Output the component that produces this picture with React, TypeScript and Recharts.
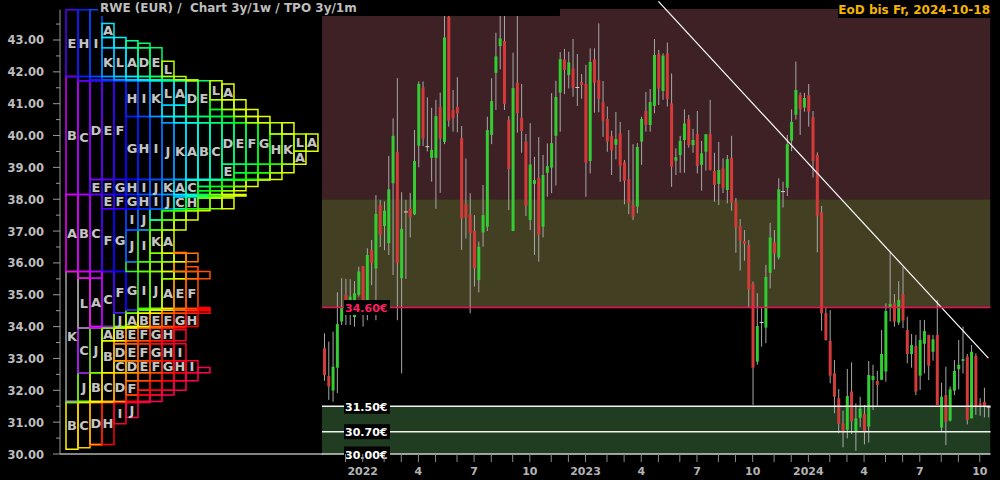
import React from 'react';
import { ComposedChart, Bar, Line, XAxis, YAxis, ReferenceArea, ReferenceLine } from 'recharts';

// weekly candles, oldest first (156 weeks up to 2024-10-18)
const candleOpen = [
  33.32, 32.45, 31.99, 32.71, 34.16, 35.0, 34.37, 34.3, 35.0, 35.9,
  34.78, 36.41, 35.83, 37.82, 37.16, 36.62, 38.5, 39.48, 35.52, 37.6,
  37.7, 37.53, 39.68, 41.51, 39.65, 39.3, 39.3, 40.89, 39.8, 43.73,
  40.8, 40.9, 39.92, 37.85, 37.5, 37.01, 35.46, 36.96, 37.14, 40.02,
  41.97, 42.81, 42.97, 40.49, 37.0, 41.66, 40.56, 39.81, 37.35, 38.48,
  38.67, 37.14, 38.83, 38.99, 39.99, 41.35, 42.39, 41.9, 42.11, 41.51,
  41.68, 41.62, 39.2, 42.39, 41.74, 41.05, 40.52, 39.99, 39.71, 40.07,
  39.16, 38.63, 37.82, 37.77, 39.81, 40.77, 40.33, 40.93, 42.56, 41.4,
  42.58, 41.01, 39.21, 39.39, 39.86, 40.52, 39.7, 40.05, 39.08, 39.49,
  40.05, 38.89, 38.48, 38.97, 38.29, 39.3, 37.91, 37.16, 36.69, 36.56,
  35.35, 32.9, 34.13, 33.97, 35.69, 36.65, 36.17, 38.24, 38.36, 39.84,
  40.65, 41.27, 40.88, 41.27, 40.58, 39.39, 37.59, 34.42, 33.55, 32.53,
  31.75, 30.96, 30.76, 31.96, 30.7, 31.14, 31.26, 30.86, 32.32, 32.29,
  32.33, 32.59, 34.61, 34.73, 34.13, 35.02, 33.89, 33.14, 33.39, 32.46,
  33.46, 33.74, 33.21, 33.74, 30.83, 31.85, 31.05, 31.99, 32.66, 32.92,
  33.06, 31.12, 33.08, 31.59, 31.64, 31.47,
];
const candleHigh = [
  33.79, 33.53, 33.84, 35.08, 35.52, 35.5, 35.49, 35.43, 35.88, 35.9,
  36.46, 36.72, 38.13, 37.98, 37.93, 39.36, 40.54, 41.8, 38.22, 37.98,
  38.2, 40.17, 41.7, 41.7, 41.2, 40.87, 41.12, 41.35, 43.8, 43.8,
  41.43, 41.83, 40.3, 39.28, 38.19, 37.5, 36.67, 38.45, 40.59, 41.8,
  43.23, 43.8, 43.8, 40.61, 42.6, 43.8, 41.62, 40.05, 40.39, 39.33,
  39.95, 39.39, 39.75, 41.33, 41.72, 42.62, 42.72, 42.63, 43.03, 42.56,
  41.93, 42.22, 42.74, 42.74, 43.52, 41.71, 40.91, 40.15, 40.74, 40.43,
  39.23, 40.17, 39.73, 39.76, 40.59, 41.37, 41.46, 43.03, 42.69, 42.58,
  42.92, 41.95, 39.6, 39.99, 40.82, 40.65, 40.21, 40.77, 39.83, 40.04,
  41.12, 39.46, 39.8, 39.28, 39.39, 39.99, 38.04, 37.38, 37.03, 36.72,
  35.41, 35.05, 34.58, 35.94, 37.26, 37.03, 38.66, 38.55, 40.02, 40.82,
  42.32, 41.35, 41.34, 41.62, 40.77, 39.47, 37.79, 34.58, 34.52, 32.95,
  32.04, 31.36, 32.67, 32.88, 31.59, 31.8, 31.54, 32.92, 32.8, 32.61,
  33.89, 34.73, 36.33, 35.02, 35.43, 35.88, 34.31, 33.77, 33.74, 34.21,
  34.21, 33.74, 33.74, 34.84, 32.24, 32.74, 32.12, 32.95, 33.58, 34.0,
  33.14, 33.42, 33.16, 31.75, 32.08, 31.51,
];
const candleLow = [
  32.3, 31.7, 31.64, 31.91, 34.05, 34.05, 34.05, 34.0, 34.94, 34.0,
  34.2, 35.3, 34.2, 36.5, 36.4, 36.25, 35.62, 34.2, 32.53, 35.5,
  36.8, 37.5, 39.0, 39.67, 39.5, 38.55, 37.7, 38.2, 39.73, 40.28,
  40.12, 40.1, 36.41, 36.77, 34.42, 35.26, 35.08, 36.51, 37.0, 39.73,
  40.8, 42.08, 40.8, 37.66, 37.0, 40.09, 39.46, 37.47, 37.03, 36.25,
  36.04, 36.8, 38.08, 38.19, 38.43, 40.12, 41.3, 41.48, 41.22, 40.93,
  41.16, 38.08, 38.81, 40.72, 40.73, 39.96, 39.49, 38.76, 39.25, 38.55,
  37.84, 37.53, 37.35, 37.56, 39.08, 40.12, 40.12, 40.7, 40.96, 41.12,
  40.91, 38.39, 38.76, 38.83, 38.83, 39.62, 39.46, 38.81, 38.27, 38.9,
  38.9, 37.92, 37.82, 38.19, 37.87, 37.64, 36.32, 35.76, 36.07, 34.58,
  31.54, 32.8, 33.37, 33.48, 35.2, 35.8, 36.11, 37.74, 38.1, 39.51,
  40.5, 40.02, 40.75, 40.28, 38.68, 36.33, 33.87, 33.56, 32.22, 31.28,
  30.65, 30.21, 30.49, 30.63, 30.1, 30.84, 30.3, 30.36, 31.38, 31.52,
  32.33, 32.27, 34.16, 34.0, 34.05, 33.95, 32.85, 32.71, 31.85, 32.01,
  32.53, 32.32, 32.93, 31.54, 30.7, 30.28, 31.02, 31.85, 32.03, 32.53,
  30.93, 31.12, 31.23, 31.2, 31.15, 31.15,
];
const candleClose = [
  32.48, 32.12, 32.74, 34.08, 34.63, 34.58, 34.94, 35.05, 35.73, 34.73,
  36.25, 35.99, 37.54, 36.88, 37.64, 38.31, 39.99, 35.99, 37.07, 37.6,
  37.45, 39.2, 41.62, 39.91, 39.65, 39.55, 40.61, 39.91, 43.08, 40.47,
  40.54, 40.7, 37.4, 37.43, 36.93, 35.83, 36.51, 37.5, 40.17, 41.08,
  42.49, 43.05, 40.99, 38.95, 41.49, 40.7, 40.14, 37.79, 39.09, 38.6,
  36.88, 38.76, 39.04, 39.76, 41.21, 42.4, 42.06, 42.3, 41.5, 41.51,
  41.59, 39.15, 42.31, 41.66, 41.15, 40.47, 39.81, 39.53, 39.89, 39.05,
  38.58, 37.87, 37.45, 39.64, 40.52, 40.33, 41.05, 42.53, 41.48, 42.51,
  41.15, 39.02, 39.32, 39.83, 40.38, 39.7, 39.86, 39.05, 39.44, 40.04,
  38.92, 38.45, 38.92, 38.36, 39.26, 37.89, 37.11, 36.7, 36.6, 35.17,
  32.71, 34.02, 34.13, 35.56, 36.8, 36.3, 38.31, 38.24, 39.73, 40.43,
  41.43, 40.83, 41.18, 40.75, 39.2, 37.48, 34.42, 33.58, 32.46, 31.8,
  30.94, 30.68, 31.82, 31.02, 31.12, 31.43, 30.72, 32.48, 32.45, 32.17,
  33.14, 34.49, 34.71, 34.16, 34.84, 34.19, 33.14, 33.42, 31.96, 33.58,
  33.86, 32.77, 33.6, 31.54, 31.8, 31.02, 32.03, 32.61, 32.8, 32.98,
  31.07, 33.21, 31.47, 31.54, 31.49, 31.47,
];

// monthly TPO periods, Nov 2021 .. Oct 2024
const monthLetter = [
  'K', 'L',
  'A', 'B', 'C', 'D', 'E', 'F', 'G', 'H', 'I', 'J', 'K', 'L',
  'A', 'B', 'C', 'D', 'E', 'F', 'G', 'H', 'I', 'J', 'K', 'L',
  'A', 'B', 'C', 'D', 'E', 'F', 'G', 'H', 'I', 'J',
];
const monthLow = [
  31.65, 33.96,
  34.0, 35.52, 32.55, 38.62, 37.7, 34.42, 34.52, 37.7, 37.03, 36.04, 38.1, 40.95,
  38.08, 38.6, 37.35, 39.1, 38.4, 38.83, 38.27, 37.64, 34.57, 31.62, 35.5, 39.51,
  33.56, 30.15, 30.2, 30.3, 32.3, 31.85, 32.0, 30.28, 30.95, 31.15,
];
const monthHigh = [
  35.73, 35.52,
  38.15, 41.85, 41.72, 41.72, 43.95, 41.75, 40.6, 43.95, 43.95, 40.4, 42.76, 43.08,
  43.52, 40.95, 40.4, 42.98, 42.9, 40.82, 41.12, 40.05, 38.04, 36.3, 40.05, 42.33,
  41.62, 34.55, 32.93, 33.46, 36.33, 35.88, 34.5, 34.6, 33.9, 32.72,
];

// horizontal zones and price levels
const zoneLow = [38.0, 34.6, 30.0];
const zoneHigh = [43.97, 38.0, 31.5];
const zoneColor = ['#3d2124', '#423f23', '#213d21'];
const levelPrice = [34.6, 31.5, 30.7, 30.0];
const levelText = ['34.60€', '31.50€', '30.70€', '30.00€'];
const levelColor = ['#ff1f62', '#ffffff', '#ffffff', '#ffffff'];
const levelLine = ['#f0105a', '#f2f2f2', '#f2f2f2', '#cfcfcf'];

// downtrend line anchors (week index, price)
const trendWeek = [78, 155];
const trendPrice = [44.21, 33.01];

// month ticks on the time axis
const tickMonths = [
  '2021-12', '2022-01', '2022-02', '2022-03', '2022-04', '2022-05', '2022-06', '2022-07',
  '2022-08', '2022-09', '2022-10', '2022-11', '2022-12', '2023-01', '2023-02', '2023-03',
  '2023-04', '2023-05', '2023-06', '2023-07', '2023-08', '2023-09', '2023-10', '2023-11',
  '2023-12', '2024-01', '2024-02', '2024-03', '2024-04', '2024-05', '2024-06', '2024-07',
  '2024-08', '2024-09', '2024-10',
];

const Y_MIN = 30;
const Y_TOP = 44.256;
const FONT = 'DejaVu Sans';
const DAY = 86400000;
const FIRST_WEEK = Date.UTC(2021, 9, 25);
const LETTER_MIN = 0.37;

const candles = candleOpen.map((o, i) => {
  const t = trendWeek.indexOf(i);
  return {
    i,
    o,
    hi: candleHigh[i],
    lo: candleLow[i],
    c: candleClose[i],
    range: [candleLow[i], candleHigh[i]],
    trend: t >= 0 ? trendPrice[t] : null,
  };
});

const tickIndex: number[] = [];
const tickLabel: Record<number, string> = {};
tickMonths.forEach((s) => {
  const [y, m] = s.split('-').map(Number);
  const idx = Math.floor((Date.UTC(y, m - 1, 1) - DAY - FIRST_WEEK) / (7 * DAY));
  tickIndex.push(idx);
  tickLabel[idx] = m === 1 ? String(y) : m % 3 === 1 ? String(m) : '';
});

function monthColor(m: number) {
  if (m < 2) return '#a0a0a0';
  const hue = (300 - 9.7 * (m - 2) + 360) % 360;
  return `hsl(${hue.toFixed(0)}, 100%, 50%)`;
}

type Box = { c: number; m: number; y1: number; y2: number };

// market profile: at every price, months are laid out left to right in time order
function buildProfile(): Box[] {
  const pts = Array.from(new Set([...monthLow, ...monthHigh])).sort((a, b) => a - b);
  const boxes: Box[] = [];
  let open = new Map<number, Box>();
  for (let k = 0; k < pts.length - 1; k++) {
    const lo = pts[k];
    const hi = pts[k + 1];
    const mid = (lo + hi) / 2;
    const active = monthLow
      .map((l, m) => (l <= mid && mid <= monthHigh[m] ? m : -1))
      .filter((m) => m >= 0);
    const next = new Map<number, Box>();
    active.forEach((m, c) => {
      const prev = open.get(c);
      if (prev && prev.m === m) {
        prev.y2 = hi;
        next.set(c, prev);
      } else {
        const b = { c, m, y1: lo, y2: hi };
        boxes.push(b);
        next.set(c, b);
      }
    });
    open = next;
  }
  return boxes;
}

const profile = buildProfile();
const yTicks = Array.from({ length: 28 }, (_, k) => 30 + k * 0.5);

function YTick(props: any) {
  const { x, y, payload } = props;
  const v = payload.value as number;
  const major = Math.abs(v - Math.round(v)) < 0.01;
  return (
    <g>
      <line x1={major ? x - 7 : x - 4} x2={x} y1={y} y2={y} stroke="#9a9a9a" strokeWidth={1} />
      {major && (
        <text x={x - 16} y={y + 4.5} textAnchor="end" fill="#bdbdbd" fontSize={11.5} fontWeight="bold" fontFamily={FONT}>
          {v.toFixed(2)}
        </text>
      )}
    </g>
  );
}

function Candle(props: any) {
  const { x, y, width, height, payload } = props;
  if (x == null || !payload) return null;
  const top = Math.min(y, y + height);
  const h = Math.abs(height);
  const { o, hi, lo, c } = payload;
  const k = hi > lo ? h / (hi - lo) : 0;
  const py = (p: number) => top + (hi - p) * k;
  const cx = x + width / 2;
  const bodyTop = py(Math.max(o, c));
  const bodyH = Math.max(py(Math.min(o, c)) - bodyTop, 1);
  return (
    <g>
      <line x1={cx} x2={cx} y1={top} y2={top + h} stroke="#a8a8a8" strokeWidth={1} />
      {o === c ? (
        <line x1={cx - 2} x2={cx + 2} y1={bodyTop} y2={bodyTop} stroke="#d0d0d0" strokeWidth={1} />
      ) : (
        <rect x={cx - 1.5} y={bodyTop} width={3} height={bodyH} fill={c > o ? '#33cc33' : '#d43a3a'} />
      )}
    </g>
  );
}

function PriceTag(props: any) {
  const { viewBox, text, color } = props;
  if (!viewBox) return null;
  const { x, y } = viewBox;
  return (
    <g>
      <rect x={x + 22} y={y - 7.5} width={46} height={15} fill="#000" />
      <text x={x + 23} y={y + 4.5} fill={color} fontSize={11} fontWeight="bold" fontFamily={FONT}>
        {text}
      </text>
    </g>
  );
}

export default function App() {
  return (
    <div style={{ position: 'absolute', left: 0, top: 0, width: 1000, height: 480, background: '#000', overflow: 'hidden' }}>
      <div style={{ position: 'absolute', left: 0, top: 0 }}>
        <ComposedChart width={323} height={480} data={profile} margin={{ top: 0, right: 0, bottom: 26, left: 0 }}>
          <XAxis type="number" dataKey="c" domain={[0, 21.92]} hide allowDataOverflow />
          <YAxis
            type="number"
            domain={[Y_MIN, Y_TOP]}
            width={60}
            ticks={yTicks}
            interval={0}
            tick={<YTick />}
            tickLine={false}
            tickSize={0}
            tickMargin={0}
            axisLine={false}
            allowDataOverflow
          />
          <ReferenceLine segment={[{ x: 0, y: Y_MIN }, { x: 0, y: 43.95 }]} stroke="#9a9a9a" strokeWidth={1} />
          {profile.map((b, n) => (
            <ReferenceArea
              key={n}
              x1={b.c + 0.5}
              x2={b.c + 1.5}
              y1={b.y1}
              y2={b.y2}
              fill="none"
              fillOpacity={0}
              stroke={monthColor(b.m)}
              strokeWidth={1.5}
              ifOverflow="hidden"
              label={
                b.y2 - b.y1 >= LETTER_MIN
                  ? { value: monthLetter[b.m], position: 'center', fill: '#c4c4c4', fontSize: 13, fontWeight: 'bold', fontFamily: FONT }
                  : undefined
              }
            />
          ))}
          <ReferenceLine y={30} stroke="#b0b0b0" strokeWidth={1.5} />
        </ComposedChart>
      </div>

      <div style={{ position: 'absolute', left: 322, top: 0 }}>
        <ComposedChart width={678} height={480} data={candles} margin={{ top: 0, right: 9.5, bottom: 0, left: 0 }} barCategoryGap={0}>
          <XAxis
            dataKey="i"
            type="category"
            ticks={tickIndex}
            interval={0}
            tickFormatter={(v: number) => tickLabel[v] ?? ''}
            height={26}
            axisLine={false}
            tickLine={{ stroke: '#8a8a8a' }}
            tickSize={8}
            tickMargin={5}
            tick={{ fill: '#b4b4b4', fontSize: 11, fontWeight: 'bold', fontFamily: FONT }}
          />
          <YAxis hide type="number" domain={[Y_MIN, Y_TOP]} allowDataOverflow />
          {zoneLow.map((lo, k) => (
            <ReferenceArea key={k} y1={lo} y2={zoneHigh[k]} fill={zoneColor[k]} fillOpacity={1} stroke="none" ifOverflow="hidden" />
          ))}
          <Bar dataKey="range" barSize={3} shape={<Candle />} isAnimationActive={false} />
          <Line dataKey="trend" stroke="#ffffff" strokeWidth={1.2} dot={false} connectNulls isAnimationActive={false} />
          {levelPrice.map((p, k) => (
            <ReferenceLine
              key={k}
              y={p}
              stroke={levelLine[k]}
              strokeWidth={1.5}
              label={<PriceTag text={levelText[k]} color={levelColor[k]} />}
            />
          ))}
        </ComposedChart>
      </div>

      <div
        style={{
          position: 'absolute', left: 98, top: 0, width: 462, height: 16, background: '#000',
          color: '#bdbdbd', font: `bold 12px "${FONT}"`, lineHeight: '16px', whiteSpace: 'pre', paddingLeft: 2, boxSizing: 'border-box',
        }}
      >
        {'RWE (EUR) /  Chart 3y/1w / TPO 3y/1m'}
      </div>
      <div
        style={{
          position: 'absolute', left: 838, top: 2, width: 152, height: 16, background: '#000',
          color: '#f5b400', font: `bold 12px "${FONT}"`, lineHeight: '16px', whiteSpace: 'pre', textAlign: 'right',
        }}
      >
        {'EoD bis Fr, 2024-10-18'}
      </div>
    </div>
  );
}
